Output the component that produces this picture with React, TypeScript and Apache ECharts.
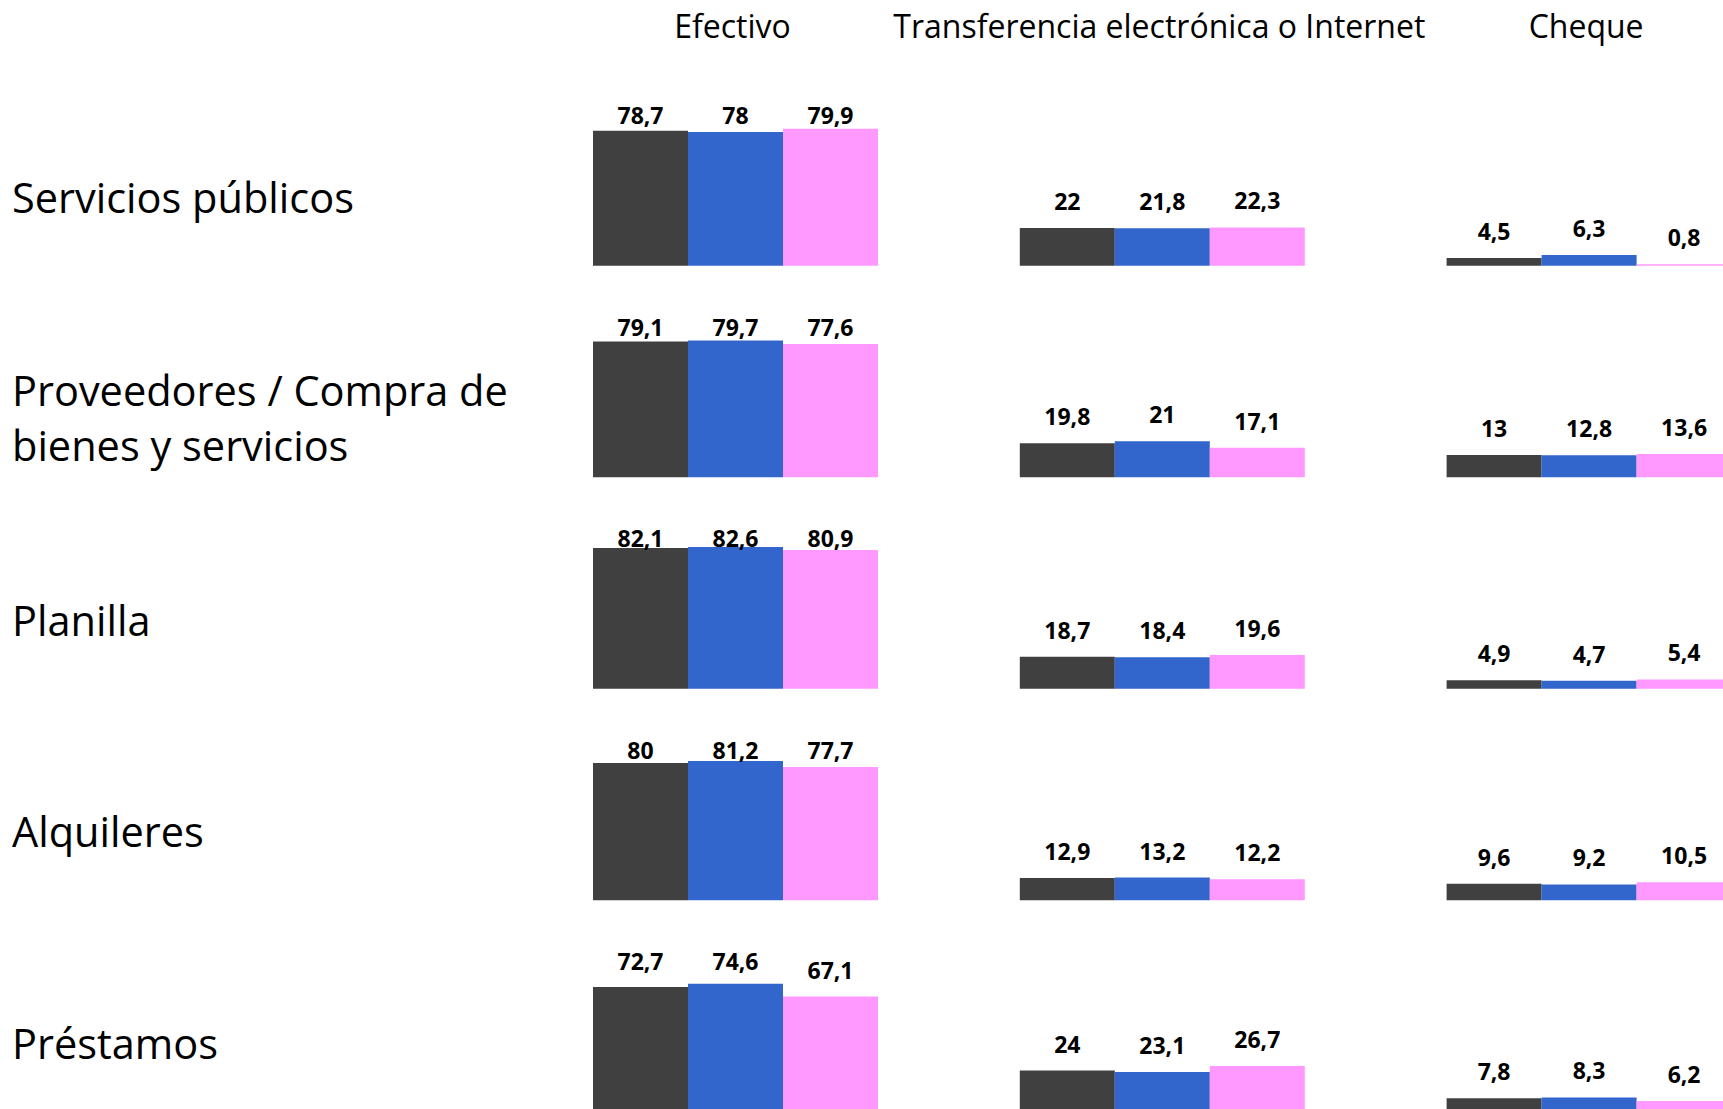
import React, { useEffect, useRef } from "react";
import * as echarts from "echarts";

// ---------- data ----------
const categories = [
  "Servicios públicos",
  "Proveedores / Compra de\nbienes y servicios",
  "Planilla",
  "Alquileres",
  "Préstamos",
];
const methods = ["Efectivo", "Transferencia electrónica o Internet", "Cheque"];
const seriesNames = ["Serie 1", "Serie 2", "Serie 3"];
const seriesColors = ["#404040", "#3366CC", "#FF99FF"];

// values per category (same order as categories)
const serie1Efectivo = [78.7, 79.1, 82.1, 80, 72.7];
const serie1Transferencia = [22, 19.8, 18.7, 12.9, 24];
const serie1Cheque = [4.5, 13, 4.9, 9.6, 7.8];

const serie2Efectivo = [78, 79.7, 82.6, 81.2, 74.6];
const serie2Transferencia = [21.8, 21, 18.4, 13.2, 23.1];
const serie2Cheque = [6.3, 12.8, 4.7, 9.2, 8.3];

const serie3Efectivo = [79.9, 77.6, 80.9, 77.7, 67.1];
const serie3Transferencia = [22.3, 17.1, 19.6, 12.2, 26.7];
const serie3Cheque = [0.8, 13.6, 5.4, 10.5, 6.2];

const seriesByMethod = [
  [serie1Efectivo, serie1Transferencia, serie1Cheque],
  [serie2Efectivo, serie2Transferencia, serie2Cheque],
  [serie3Efectivo, serie3Transferencia, serie3Cheque],
];

// ---------- layout ----------
const W = 1723;
const H = 1109;
const K = 1.715; // px per unit
const Y_MAX = 100;
const FIRST_BASELINE = 265.7;
const ROW_STEP = 211.5;
const FIRST_LEFT = 593;
const COL_STEP = 426.8;
const GROUP_WIDTH = 285;
const LABEL_GAP = 27; // label centre above bar top
const LABEL_CEIL = 150.7; // max label centre above baseline
const LABEL_FONT = 23;
const FONT = "'Open Sans', 'Noto Sans', sans-serif";

const fmt = (v: number) => String(v).replace(".", ",");

function buildOption() {
  const grid: any[] = [];
  const xAxis: any[] = [];
  const yAxis: any[] = [];
  const series: any[] = [];
  const graphic: any[] = [];
  let idx = 0;

  methods.forEach((m, c) => {
    graphic.push({
      type: "text",
      x: FIRST_LEFT + c * COL_STEP + GROUP_WIDTH / 2 - 3,
      y: 25,
      silent: true,
      style: {
        text: m,
        fontSize: 32,
        fontFamily: FONT,
        fill: "#000",
        align: "center",
        verticalAlign: "middle",
        textAlign: "center",
        textVerticalAlign: "middle",
      },
    });
  });

  categories.forEach((cat, r) => {
    const baseline = FIRST_BASELINE + r * ROW_STEP;
    const multi = cat.includes("\n");
    graphic.push({
      type: "text",
      x: 12,
      y: baseline - (multi ? 59.5 : 69),
      silent: true,
      style: {
        text: cat,
        fontSize: 41.5,
        lineHeight: 55,
        fontFamily: FONT,
        fill: "#000",
        align: "left",
        verticalAlign: "middle",
        textAlign: "left",
        textVerticalAlign: "middle",
      },
    });

    methods.forEach((m, c) => {
      grid.push({
        left: FIRST_LEFT + c * COL_STEP,
        top: baseline - Y_MAX * K,
        width: GROUP_WIDTH,
        height: Y_MAX * K,
        containLabel: false,
        outerBoundsMode: "none",
      });
      xAxis.push({
        type: "category",
        gridIndex: idx,
        data: [cat],
        show: false,
      });
      yAxis.push({
        type: "value",
        gridIndex: idx,
        min: 0,
        max: Y_MAX,
        show: false,
      });
      seriesByMethod.forEach((arrs, j) => {
        const v = arrs[c][r];
        const dist = Math.min(
          LABEL_GAP - LABEL_FONT / 2,
          LABEL_CEIL - LABEL_FONT / 2 - v * K
        );
        series.push({
          type: "bar",
          name: seriesNames[j],
          xAxisIndex: idx,
          yAxisIndex: idx,
          barGap: "0%",
          barCategoryGap: "0%",
          itemStyle: { color: seriesColors[j] },
          label: {
            show: true,
            position: "top",
            fontSize: LABEL_FONT,
            lineHeight: LABEL_FONT,
            fontWeight: "bold",
            fontFamily: FONT,
            color: "#000",
            formatter: (p: any) => fmt(p.value),
          },
          data: [{ value: v, label: { distance: dist } }],
        });
      });
      idx++;
    });
  });

  return {
    animation: false,
    backgroundColor: "#ffffff",
    grid,
    xAxis,
    yAxis,
    series,
    graphic,
    tooltip: { show: false },
  };
}

export default function App() {
  const ref = useRef<HTMLDivElement>(null);
  useEffect(() => {
    if (!ref.current) return;
    const chart = echarts.init(ref.current, undefined, { renderer: "svg" });
    chart.setOption(buildOption() as any);
    return () => chart.dispose();
  }, []);
  return (
    <div
      style={{
        position: "fixed",
        left: 0,
        top: 0,
        width: W,
        height: H,
        overflow: "hidden",
        background: "#fff",
      }}
    >
      <div ref={ref} style={{ width: W, height: H }} />
    </div>
  );
}
